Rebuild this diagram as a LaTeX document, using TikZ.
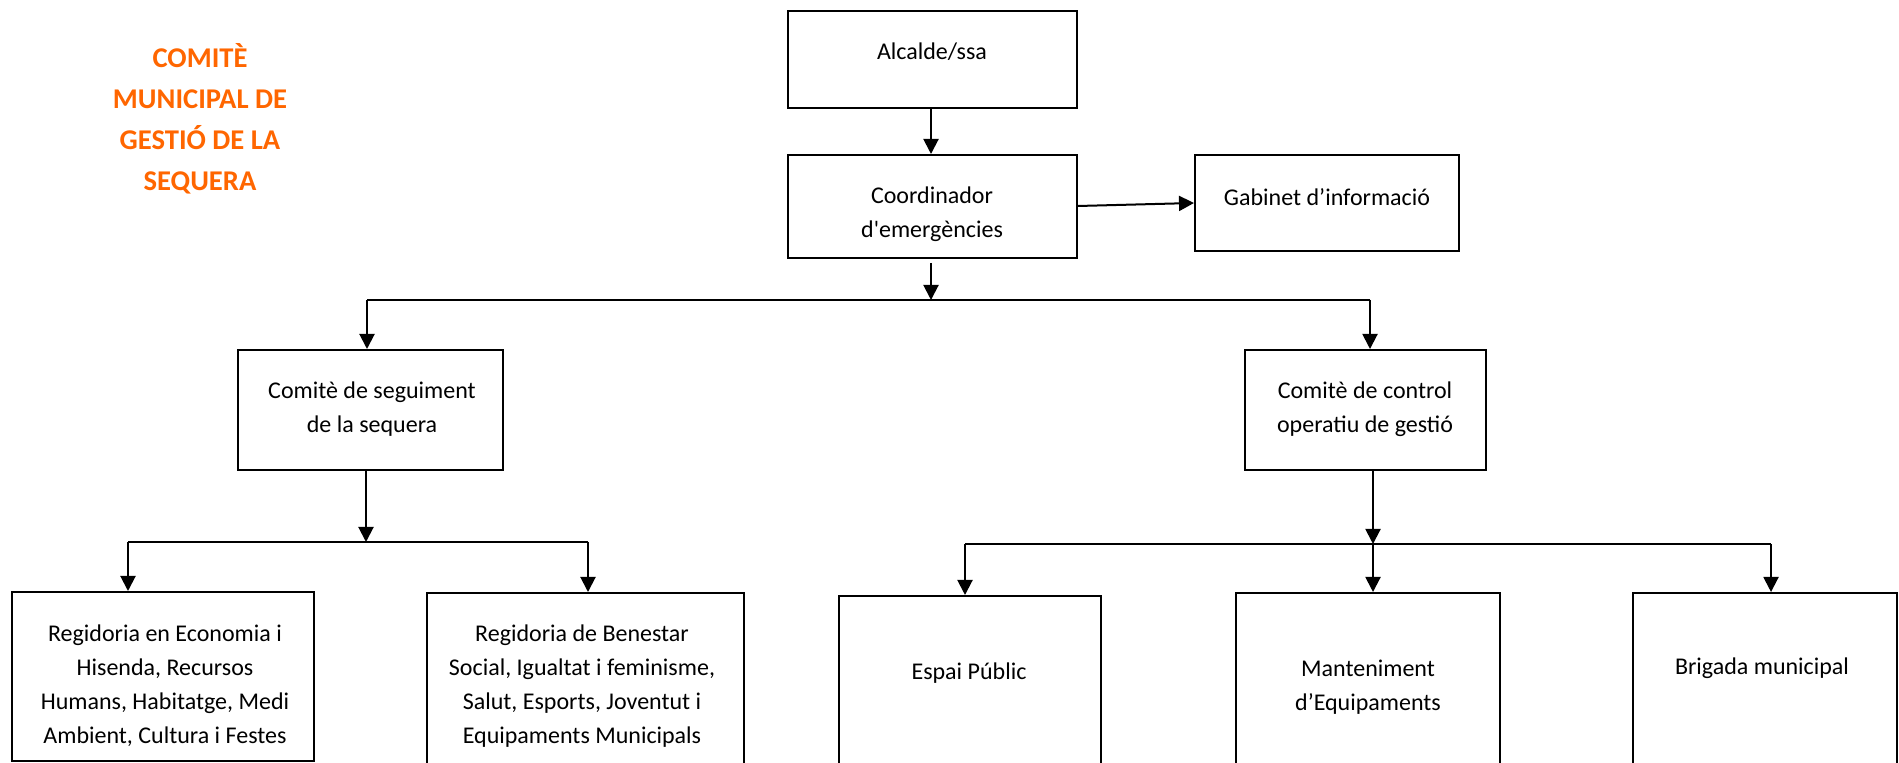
\documentclass[tikz,border=0pt]{standalone}
\usepackage{fontspec}
\setmainfont{Carlito}
\usetikzlibrary{arrows.meta}
\definecolor{titleorange}{HTML}{FF6600}
\tikzset{
  box/.style={draw, line width=1pt, inner sep=0pt, fill=none},
  txt/.style={align=center, inner sep=0pt, font=\fontsize{12}{17}\selectfont},
  ttl/.style={align=center, inner sep=0pt, text=titleorange, font=\fontsize{14.3}{20.5}\selectfont\bfseries},
  conn/.style={line width=1pt},
  arr/.style={line width=1pt, -{Triangle[width=7.5pt,length=7.5pt]}}
}
\begin{document}
\begin{tikzpicture}[x=0.5pt,y=-0.5pt]
\useasboundingbox (0,0) rectangle (1899,763);
\clip (0,0) rectangle (1899,763);
% title
\node[ttl] (title) at (200,118.5) {COMITÈ\\MUNICIPAL DE\\GESTIÓ DE LA\\SEQUERA};
% boxes
\node[box, minimum width=144.5pt, minimum height=48.5pt] (alc) at (932.5,59.5) {};
\node[box, minimum width=144.5pt, minimum height=51.5pt] (coord) at (932.5,206.5) {};
\node[box, minimum width=132pt, minimum height=48pt] (gab) at (1327,203) {};
\node[box, minimum width=132.5pt, minimum height=60pt] (seg) at (370.5,410) {};
\node[box, minimum width=120.5pt, minimum height=60pt] (ctl) at (1365.5,410) {};
\node[box, minimum width=151pt, minimum height=84.5pt] (eco) at (163,676.5) {};
\node[box, minimum width=158.5pt, minimum height=103.5pt] (ben) at (585.5,696.5) {};
\node[box, minimum width=131pt, minimum height=102pt] (esp) at (970,698) {};
\node[box, minimum width=132pt, minimum height=103.5pt] (man) at (1368,696.5) {};
\node[box, minimum width=132pt, minimum height=103.5pt] (bri) at (1765,696.5) {};
% texts
\node[txt] (talc) at (932,52) {Alcalde/ssa};
\node[txt] (tcoord) at (932,214) {Coordinador\\d\textquotesingle emergències};
\node[txt] (tgab) at (1327,197) {Gabinet d’informació};
\node[txt] (tseg) at (372,409) {Comitè de seguiment\\de la sequera};
\node[txt] (tctl) at (1365,409) {Comitè de control\\operatiu de gestió};
\node[txt] (teco) at (165,686) {Regidoria en Economia i\\Hisenda, Recursos\\Humans, Habitatge, Medi\\Ambient, Cultura i Festes};
\node[txt] (tben) at (582,686) {Regidoria de Benestar\\Social, Igualtat i feminisme,\\Salut, Esports, Joventut i\\Equipaments Municipals};
\node[txt] (tesp) at (969,673) {Espai Públic};
\node[txt] (tman) at (1368,687.5) {Manteniment\\d’Equipaments};
\node[txt] (tbri) at (1762,668) {Brigada municipal};
% junction coordinates
\coordinate (c1) at (931,263);
\coordinate (j1) at (931,300);
\coordinate (j1l) at (367,300);
\coordinate (j1r) at (1370,300);
\coordinate (j2) at (366,542);
\coordinate (j2l) at (128,542);
\coordinate (j2r) at (588,542);
\coordinate (j3) at (1373,544);
\coordinate (j3l) at (965,544);
\coordinate (j3r) at (1771,544);
% connectors
\draw[arr] (alc.south -| 931,0) -- (coord.north -| 931,0);
\draw[arr] (coord.east |- 0,206) -- (gab.west |- 0,203);
\draw[arr] (c1) -- (j1);
\draw[conn] (j1l) -- (j1r);
\draw[arr] (j1l) -- (seg.north -| j1l);
\draw[arr] (j1r) -- (ctl.north -| j1r);
\draw[arr] (seg.south -| j2) -- (j2);
\draw[conn] (j2l) -- (j2r);
\draw[arr] (j2l) -- (eco.north -| j2l);
\draw[arr] (j2r) -- (ben.north -| j2r);
\draw[arr] (ctl.south -| j3) -- (j3);
\draw[conn] (j3l) -- (j3r);
\draw[arr] (j3l) -- (esp.north -| j3l);
\draw[arr] (j3) -- (man.north -| j3);
\draw[arr] (j3r) -- (bri.north -| j3r);
\end{tikzpicture}
\end{document}
